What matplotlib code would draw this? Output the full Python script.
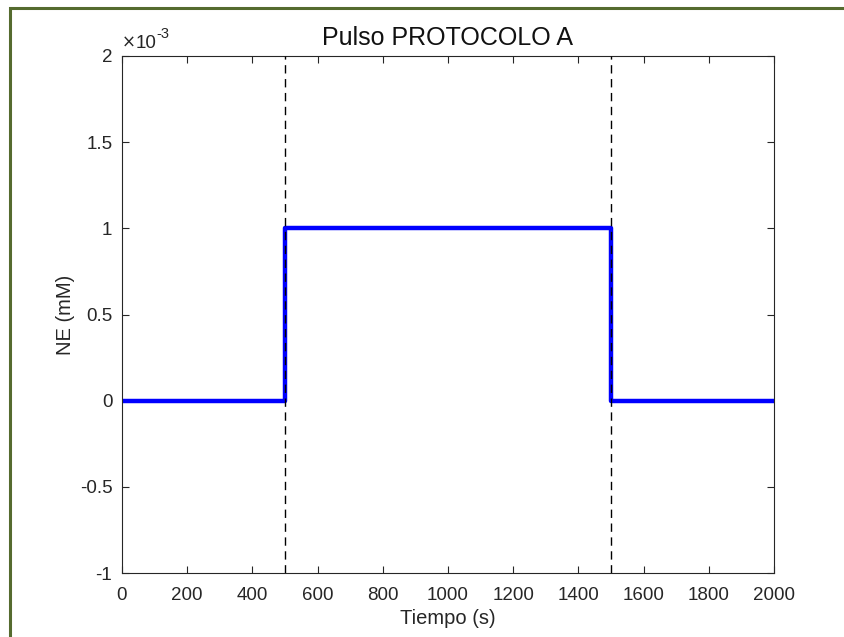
import matplotlib
matplotlib.use('Agg')
import matplotlib.pyplot as plt
from matplotlib.patches import Rectangle
from matplotlib.ticker import FuncFormatter

plt.rcParams['font.family'] = ['Liberation Sans', 'DejaVu Sans']
plt.rcParams['axes.unicode_minus'] = False

# pulse data
tiempo = [0, 500, 500, 1500, 1500, 2000]
ne_mM = [0, 0, 1e-3, 1e-3, 0, 0]
pulse_edges = [500, 1500]
x_ticks = [0, 200, 400, 600, 800, 1000, 1200, 1400, 1600, 1800, 2000]
y_ticks = [-1e-3, -0.5e-3, 0, 0.5e-3, 1e-3, 1.5e-3, 2e-3]

fig = plt.figure(figsize=(8.45, 6.37), dpi=100, facecolor='white')
ax = fig.add_axes([122 / 845, 1 - 573 / 637, 652 / 845, 517 / 637])

# figure border (cropped screenshot)
fig.patches.append(Rectangle((10 / 845, -0.2), 2, (637 - 8) / 637 + 0.2,
                             transform=fig.transFigure, fill=False,
                             edgecolor='#556b2f', linewidth=2.2))

ax.plot(tiempo, ne_mM, color='#0000ff', linewidth=3.2, zorder=2)
for x in pulse_edges:
    ax.axvline(x, color='black', linewidth=1, linestyle=(0, (6, 4)), zorder=3)

ax.set_xlim(0, 2000)
ax.set_ylim(-1e-3, 2e-3)
ax.set_xticks(x_ticks)
ax.set_yticks(y_ticks)
ax.yaxis.set_major_formatter(FuncFormatter(lambda v, p: f'{v * 1e3:g}'))

ax.tick_params(direction='in', length=5, width=0.8, top=True, right=True,
               labelsize=13.5, colors='#262626')
ax.tick_params(axis='x', pad=10)
ax.tick_params(axis='y', pad=7)
for s in ax.spines.values():
    s.set_color('#262626')
    s.set_linewidth(0.8)

# exponent label above the y axis
ax.annotate('×', xy=(0, 1), xycoords='axes fraction', xytext=(0, 6),
            textcoords='offset points', fontsize=12, color='#262626',
            ha='left', va='baseline', family=['DejaVu Sans'])
ax.annotate('10', xy=(0, 1), xycoords='axes fraction', xytext=(10, 6),
            textcoords='offset points', fontsize=13.5, color='#262626',
            ha='left', va='baseline')
ax.annotate('-3', xy=(0, 1), xycoords='axes fraction', xytext=(25, 13),
            textcoords='offset points', fontsize=10.5, color='#262626',
            ha='left', va='baseline')

ax.set_title('Pulso PROTOCOLO A', fontsize=18, color='#111111', pad=8)
ax.set_xlabel('Tiempo (s)', fontsize=14.5, color='#262626', labelpad=4)
ax.set_ylabel('NE (mM)', fontsize=14.5, color='#262626', labelpad=3)

fig.savefig('out.png', dpi=100, facecolor='white')
